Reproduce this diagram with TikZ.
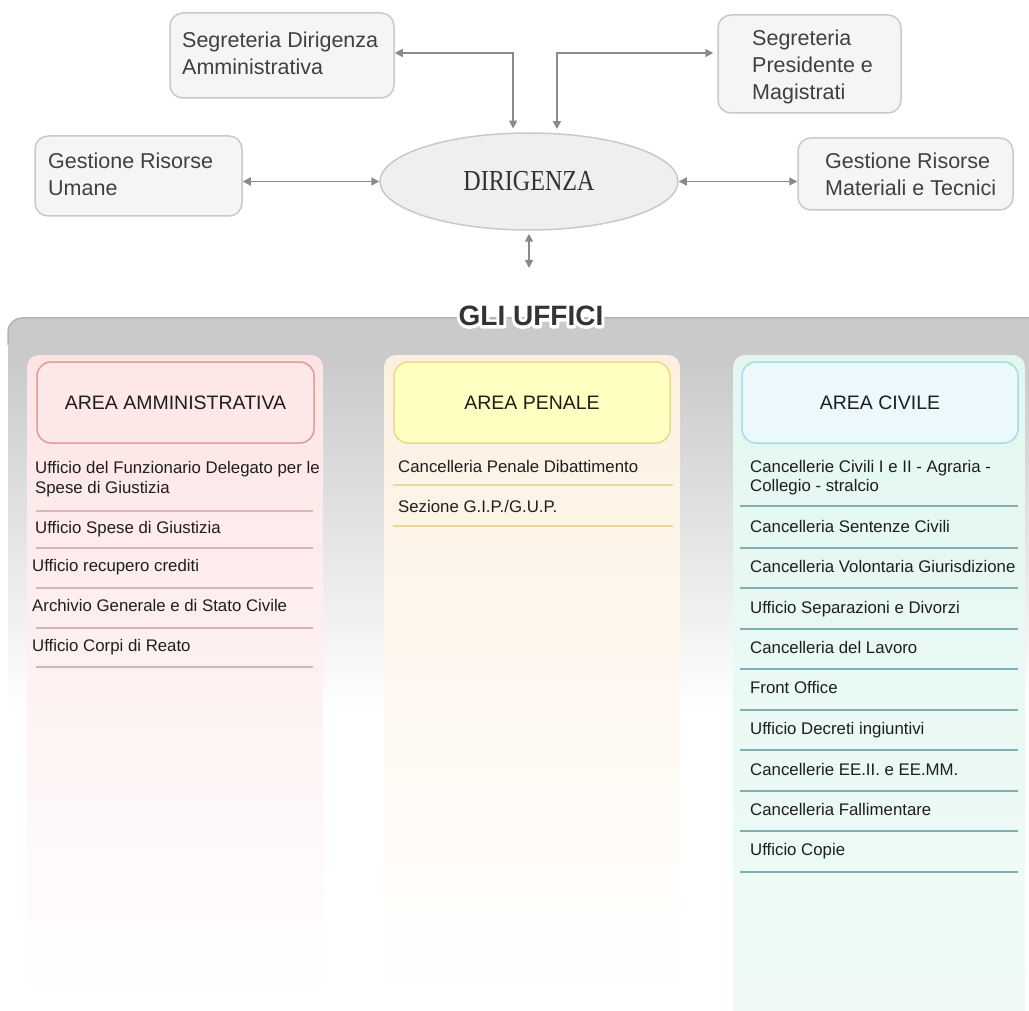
\documentclass[tikz,border=0pt]{standalone}
\usepackage{fontspec}
\setmainfont{Liberation Sans}
\newfontfamily\serifF{Liberation Serif}
\usetikzlibrary{shapes.geometric,arrows.meta,calc}
\definecolor{boxfill}{HTML}{F5F5F5}
\definecolor{boxline}{HTML}{C9C9C9}
\definecolor{ellfill}{HTML}{EFEFEF}
\definecolor{arrowgray}{HTML}{8A8A8A}
\definecolor{panelgray}{HTML}{CACACA}
\definecolor{paneledge}{HTML}{B4B4B4}
\definecolor{pinkcol}{HTML}{FDE4E4}
\definecolor{pinkhdr}{HTML}{FDE7E7}
\definecolor{pinkline}{HTML}{E39A9A}
\definecolor{pinksep}{HTML}{D8B4B4}
\definecolor{peachcol}{HTML}{FDF0E0}
\definecolor{yellowhdr}{HTML}{FFFFC2}
\definecolor{yellowline}{HTML}{E9DA88}
\definecolor{peachsep}{HTML}{EFD49C}
\definecolor{mintcol}{HTML}{E3F7F0}
\definecolor{cyanhdr}{HTML}{EBF9FD}
\definecolor{cyanline}{HTML}{A6DCE5}
\definecolor{tealsep}{HTML}{7FAEB3}
\definecolor{txt}{HTML}{1E1E1E}
\definecolor{titletxt}{HTML}{333333}
\tikzset{
  topbox/.style={draw=boxline, fill=boxfill, line width=1.5pt, rounded corners=13pt, inner sep=0pt},
  boxtext/.style={font=\fontsize{21.5}{26.7}\selectfont, text=txt!85, align=left, inner sep=0pt, anchor=west},
  conn/.style={draw=arrowgray, line width=1.7pt, {Triangle[length=8pt,width=8pt]}-{Triangle[length=8pt,width=8pt]}},
  hdr/.style={rounded corners=14pt, line width=1.5pt, minimum width=277pt, minimum height=81pt, inner sep=0pt, font=\fontsize{19.5}{22}\selectfont, text=txt},
  item/.style={anchor=base west, inner sep=0pt, font=\fontsize{16.8}{19.5}\selectfont, text=txt},
  gtitle/.style={inner sep=0pt, font=\bfseries\fontsize{28}{30}\selectfont},
}
\begin{document}
\begin{tikzpicture}[x=1pt,y=-1pt]
\useasboundingbox (0,0) rectangle (1029,1011);
\fill[white] (0,0) rectangle (1029,1011);

% ---------- top boxes ----------
\node[topbox, minimum width=224pt, minimum height=85pt] (sda) at (282,55.5) {};
\node[boxtext] (sdaT) at (182,53) {Segreteria Dirigenza\\Amministrativa};
\node[topbox, minimum width=183pt, minimum height=98pt] (spm) at (809.5,64) {};
\node[boxtext] (spmT) at (752,67) {Segreteria\\Presidente e\\Magistrati};
\node[topbox, minimum width=207pt, minimum height=80pt] (gru) at (138.5,176) {};
\node[boxtext] (gruT) at (48,174) {Gestione Risorse\\Umane};
\node[topbox, minimum width=215pt, minimum height=72pt] (grmt) at (905.5,174) {};
\node[boxtext] (grmtT) at (825,174) {Gestione Risorse\\Materiali e Tecnici};

\node[ellipse, draw=boxline, fill=ellfill, line width=1.5pt, minimum width=298pt, minimum height=97pt, inner sep=0pt,
      font=\serifF\fontsize{29}{30}\selectfont, text=titletxt] (dir) at (529,181.5) {\scalebox{0.83}[1]{DIRIGENZA}};

% ---------- connectors ----------
\coordinate (hy) at (0,53);
\coordinate (bot) at (529,268);
\draw[conn, shorten >=4pt] (sda.east |- hy) -| (dir.108);
\draw[conn, shorten >=4pt, shorten <=4pt] (dir.60) |- (spm.west |- hy);
\draw[conn] (gru.east |- dir.west) -- (dir.west);
\draw[conn] (dir.east) -- (grmt.west |- dir.east);
\draw[conn, shorten <=3pt] (dir.south) -- (bot);

% ---------- panel ----------
\fill[panelgray] (8,362) -- (8,332) arc[start angle=180, end angle=270, radius=14] -- (1029,318) -- (1029,362) -- cycle;
\shade[top color=panelgray, bottom color=white] (8,361) rectangle (1029,710);
\draw[paneledge, line width=1.5pt] (8,345) -- (8,332) arc[start angle=180, end angle=270, radius=14] -- (1029,318);

% ---------- columns ----------
\shade[rounded corners=12pt, top color=pinkcol, middle color=pinkcol, bottom color=white] (27,355) rectangle (323,1000);
\shade[rounded corners=12pt, top color=peachcol, middle color=peachcol!85!white, bottom color=white] (384,355) rectangle (680,1000);
\shade[rounded corners=12pt, top color=mintcol, middle color=mintcol, bottom color=mintcol!55!white] (733,355) rectangle (1025,1030);

% ---------- headers ----------
\node[hdr, fill=pinkhdr, draw=pinkline] (hA) at (175.5,402.5) {AREA AMMINISTRATIVA};
\node[hdr, fill=yellowhdr, draw=yellowline, minimum width=276pt] (hP) at (532,402.5) {AREA PENALE};
\node[hdr, fill=cyanhdr, draw=cyanline, minimum width=276pt] (hC) at (880,402.5) {AREA CIVILE};

% ---------- title (white outline, then the text) ----------
\node[gtitle, text=white] (halo) at (531,316) {\special{pdf:literal direct 6 w 1 j 1 J 2 Tr}GLI UFFICI\special{pdf:literal direct 0 Tr 1 w}};
\node[gtitle, text=titletxt] (title) at (531,316) {GLI UFFICI};

% ---------- left column items ----------
\node[item] (a1) at (35,473) {Ufficio del Funzionario Delegato per le};
\node[item] (a1b) at (35,493) {Spese di Giustizia};
\node[item] (a2) at (35,533) {Ufficio Spese di Giustizia};
\node[item] (a3) at (32,571) {Ufficio recupero crediti};
\node[item] (a4) at (32,611) {Archivio Generale e di Stato Civile};
\node[item] (a5) at (32,651) {Ufficio Corpi di Reato};
\foreach \y in {511,548,588,628,667}{
  \draw[pinksep, line width=1.2pt] (36,\y) -- (313,\y);
}

% ---------- middle column items ----------
\node[item] (p1) at (398,472) {Cancelleria Penale Dibattimento};
\node[item] (p2) at (398,512) {Sezione G.I.P./G.U.P.};
\foreach \y in {485,526}{
  \draw[peachsep, line width=1.2pt] (393,\y) -- (673,\y);
}

% ---------- right column items ----------
\node[item] (c1) at (750,472) {Cancellerie Civili I e II - Agraria -};
\node[item] (c1b) at (750,491) {Collegio - stralcio};
\node[item] (c2) at (750,532) {Cancelleria Sentenze Civili};
\node[item] (c3) at (750,572) {Cancelleria Volontaria Giurisdizione};
\node[item] (c4) at (750,613) {Ufficio Separazioni e Divorzi};
\node[item] (c5) at (750,653) {Cancelleria del Lavoro};
\node[item] (c6) at (750,693) {Front Office};
\node[item] (c7) at (750,734) {Ufficio Decreti ingiuntivi};
\node[item] (c8) at (750,775) {Cancellerie EE.II. e EE.MM.};
\node[item] (c9) at (750,815) {Cancelleria Fallimentare};
\node[item] (c10) at (750,855) {Ufficio Copie};
\foreach \y in {506,548,588,629,669,710,750,791,831,872}{
  \draw[tealsep, line width=1.2pt] (740,\y) -- (1018,\y);
}
\end{tikzpicture}
\end{document}
